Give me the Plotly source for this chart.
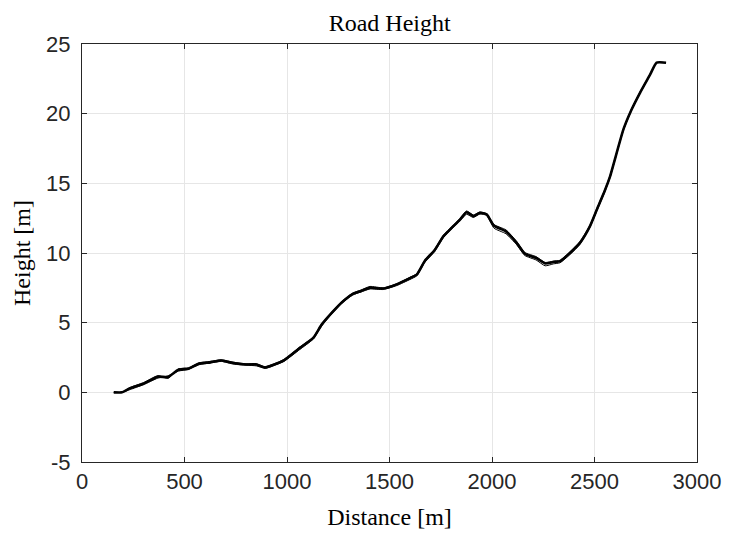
import plotly.graph_objects as go

# Distance [m] and road height [m] of the measured runs
distance = [155, 195, 235, 300, 370, 420, 470, 520, 570, 625, 680, 740, 800, 850, 893,
            935, 985, 1063, 1128, 1169, 1218, 1267, 1320, 1360, 1405, 1470, 1535, 1600,
            1633, 1673, 1720, 1763, 1803, 1844, 1876, 1909, 1941, 1974, 2010, 2068, 2120,
            2160, 2215, 2259, 2300, 2332, 2380, 2429, 2478, 2511, 2551, 2576, 2641, 2681,
            2722, 2771, 2803, 2849]
height_run1 = [0.0, 0.0, 0.3, 0.62, 1.12, 1.1, 1.62, 1.7, 2.05, 2.15, 2.28, 2.1, 2.0, 2.0,
               1.78, 1.98, 2.3, 3.19, 3.9, 4.86, 5.7, 6.45, 7.05, 7.26, 7.5, 7.45, 7.75,
               8.2, 8.45, 9.45, 10.2, 11.2, 11.8, 12.4, 12.93, 12.65, 12.88, 12.77, 11.95,
               11.55, 10.73, 9.95, 9.65, 9.25, 9.35, 9.4, 10.0, 10.73, 11.93, 13.1, 14.5,
               15.5, 18.87, 20.3, 21.5, 22.8, 23.66, 23.66]
height_run2 = [0.0, 0.0, 0.2, 0.55, 1.02, 1.18, 1.52, 1.65, 1.98, 2.1, 2.22, 2.02, 1.95,
               1.9, 1.72, 1.92, 2.22, 3.08, 3.82, 4.76, 5.62, 6.38, 6.98, 7.2, 7.42, 7.38,
               7.66, 8.1, 8.36, 9.35, 10.1, 11.1, 11.72, 12.32, 12.78, 12.55, 12.8, 12.7,
               11.78, 11.38, 10.6, 9.82, 9.5, 9.08, 9.22, 9.3, 9.88, 10.62, 11.85, 13.0,
               14.4, 15.42, 18.8, 20.24, 21.45, 22.76, 23.66, 23.66]
height_run3 = [0.0, 0.0, 0.35, 0.7, 1.2, 1.0, 1.68, 1.76, 2.12, 2.22, 2.34, 2.16, 2.05,
               2.06, 1.84, 2.04, 2.36, 3.26, 3.96, 4.92, 5.76, 6.52, 7.12, 7.34, 7.6, 7.5,
               7.8, 8.26, 8.52, 9.52, 10.28, 11.28, 11.88, 12.48, 13.02, 12.72, 12.94,
               12.82, 12.04, 11.66, 10.84, 10.04, 9.74, 9.32, 9.42, 9.48, 10.08, 10.82,
               12.0, 13.18, 14.58, 15.56, 18.92, 20.36, 21.56, 22.84, 23.66, 23.66]

x_ticks = [0, 500, 1000, 1500, 2000, 2500, 3000]
y_ticks = [-5, 0, 5, 10, 15, 20, 25]

fig = go.Figure()
for h, w in [(height_run2, 1.0), (height_run3, 1.0), (height_run1, 2.6)]:
    fig.add_trace(go.Scatter(x=distance, y=h, mode="lines",
                             line=dict(color="black", width=w, shape="spline", smoothing=0.5),
                             showlegend=False, hoverinfo="skip"))

serif = "Liberation Serif, Times New Roman, serif"
axis_common = dict(
    showline=True, linecolor="#262626", linewidth=1, mirror="ticks",
    ticks="inside", ticklen=5, tickcolor="#262626",
    showgrid=True, gridcolor="#e6e6e6", gridwidth=1, zeroline=False,
    tickfont=dict(family="Liberation Sans, Arial, sans-serif", size=22, color="#262626"),
)

fig.update_layout(
    width=729, height=535,
    margin=dict(l=82, r=32, t=44, b=73),
    paper_bgcolor="white", plot_bgcolor="white",
    title=dict(text="Road Height", x=0.5345, xanchor="center", y=1 - 23 / 535,
               yanchor="middle", yref="container",
               font=dict(family=serif, size=24, color="black")),
    xaxis=dict(range=[0, 3000], tickvals=x_ticks, ticktext=[str(v) for v in x_ticks],
               ticklabelstandoff=0,
               title=dict(text="Distance [m]", standoff=14,
                          font=dict(family=serif, size=24, color="black")),
               **axis_common),
    yaxis=dict(range=[-5, 25], tickvals=y_ticks, ticktext=[str(v) for v in y_ticks],
               ticklabelstandoff=6,
               title=dict(text="Height [m]", standoff=8,
                          font=dict(family=serif, size=24, color="black")),
               **axis_common),
)
fig.update_xaxes(automargin=False)
fig.update_yaxes(automargin=False)

fig.write_html("out.html")
